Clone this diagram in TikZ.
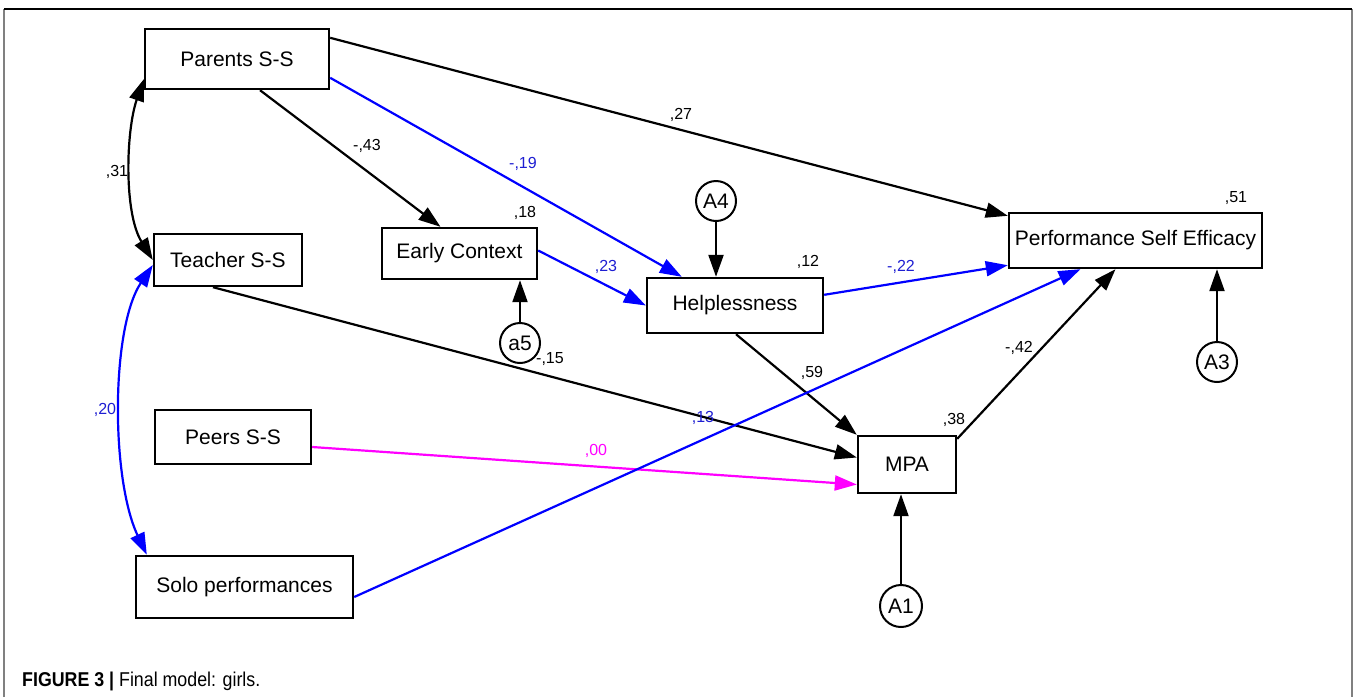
\documentclass[tikz,border=0pt]{standalone}
\usepackage{fontspec}
\setmainfont{Liberation Sans}
\usetikzlibrary{arrows.meta}
\definecolor{pblue}{RGB}{0,0,255}
\definecolor{lblue}{RGB}{30,30,210}
\definecolor{pmag}{RGB}{255,0,255}
\tikzset{
  varbox/.style={draw=black, line width=2.4pt, rectangle, inner sep=0pt, font=\fontsize{21}{25}\selectfont},
  errc/.style={draw=black, circle, line width=2pt, minimum size=40pt, inner sep=0pt, font=\fontsize{21}{25}\selectfont},
  tipA/.style={-{Triangle[length=22pt,width=15pt]}},
  tipAA/.style={{Triangle[length=22pt,width=15pt]}-{Triangle[length=22pt,width=15pt]}},
  blk/.style={draw=black, line width=2.2pt, tipA},
  blu/.style={draw=pblue, line width=2.2pt, tipA},
  mag/.style={draw=pmag, line width=2.2pt, tipA},
  lbl/.style={font=\fontsize{16}{19}\selectfont, inner sep=0pt},
  frameline/.style={line width=1.5pt},
}
\begin{document}
\begin{tikzpicture}[x=1pt,y=-1pt]
\useasboundingbox (0,0) rectangle (1357,697);
% frame
\draw[frameline, gray] (4,697) -- (4,9);
\draw[frameline, gray] (1352,9) -- (1352,697);
\draw[frameline, black] (4,9) -- (1352,9);

% variables
\node[varbox, minimum width=184pt, minimum height=60pt] (par) at (237,59) {Parents S-S};
\node[varbox, minimum width=148pt, minimum height=52pt] (tea) at (228,260) {Teacher S-S};
\node[varbox, minimum width=155pt, minimum height=51pt] (ear) at (459.5,253.5) {Early Context};
\node[varbox, minimum width=176pt, minimum height=55pt] (hel) at (735,305.5) {Helplessness};
\node[varbox, minimum width=253pt, minimum height=55pt] (pse) at (1135.5,240.5) {Performance Self Efficacy};
\node[varbox, minimum width=156pt, minimum height=54pt] (pee) at (233,437) {Peers S-S};
\node[varbox, minimum width=217pt, minimum height=62pt] (sol) at (244.5,587) {Solo performances};
\node[varbox, minimum width=98pt, minimum height=57pt] (mpa) at (907,464.5) {MPA};

% error terms
\node[errc] (A4) at (716,201) {A4};
\node[errc] (a5) at (520,343) {a5};
\node[errc] (A3) at (1217,362) {A3};
\node[errc, minimum size=42pt] (A1) at (901,606) {A1};

% paths
\draw[blk] ([yshift=-10pt]par.north east) -- ([yshift=-4pt]pse.north west);
\draw[blu] ([yshift=-50pt]par.north east) -- ([xshift=36pt]hel.north west);
\draw[blk] ([xshift=23pt]par.south) -- ([xshift=-19pt]ear.north);
\draw[draw=black, line width=2.2pt, tipAA]
  ([yshift=11pt]par.south west) .. controls +(-18,52) and +(-29,-47) .. ([yshift=0pt]tea.west);
\draw[draw=pblue, line width=2.2pt, tipAA]
  ([yshift=-5pt]tea.west) .. controls +(-42,63) and +(-36,-76) .. ([xshift=12pt]sol.north west);
\draw[blu] ([yshift=3pt]ear.east) -- (hel.west);
\draw[blk] (A4.south) -- (A4.south |- hel.north);
\draw[blk] (a5.north) -- (a5.north |- ear.south);
\draw[blu] ([yshift=-18pt]hel.north east) -- ([yshift=4pt]pse.south west);
\draw[blk] ([xshift=1pt]hel.south) -- (mpa.north west);
\draw[blk] ([xshift=-15pt]tea.south) -- ([yshift=7pt]mpa.west);
\draw[mag] ([yshift=-10pt]pee.east) -- ([yshift=-20pt]mpa.west);
\draw[blu] ([yshift=-10pt]sol.east) -- ([xshift=-55pt]pse.south);
\draw[blk] ([yshift=-4pt]mpa.north east) -- ([xshift=-20pt]pse.south);
\draw[blk] (A3.north) -- (A3.north |- pse.south);
\draw[blk] (A1.north) -- (A1.north |- mpa.south);

% labels
\node[lbl] (l27) at (681,115) {,27};
\node[lbl] (l43) at (367,146) {-,43};
\node[lbl, text=lblue] (l19) at (523,164) {-,19};
\node[lbl] (l31) at (117,172) {,31};
\node[lbl] (l18) at (525,213) {,18};
\node[lbl, text=lblue] (l23) at (606,267) {,23};
\node[lbl] (l51) at (1236,198) {,51};
\node[lbl] (l12) at (808,262) {,12};
\node[lbl, text=lblue] (l22) at (901,267) {-,22};
\node[lbl] (l42) at (1019,348) {-,42};
\node[lbl] (l59) at (812,373) {,59};
\node[lbl] (l38) at (954,420) {,38};
\node[lbl, text=lblue] (l13) at (703,418) {,13};
\node[lbl] (l15) at (550,359) {-,15};
\node[lbl, text=pmag] (l00) at (596,451) {,00};
\node[lbl, text=lblue] (l20) at (105,410) {,20};

% caption
\node[anchor=base west, inner sep=0pt, font=\fontsize{20}{24}\selectfont] (cap) at (22,686)
  {\scalebox{0.89}[1]{\textbf{FIGURE 3 |} Final model: girls.}};
\end{tikzpicture}
\end{document}
